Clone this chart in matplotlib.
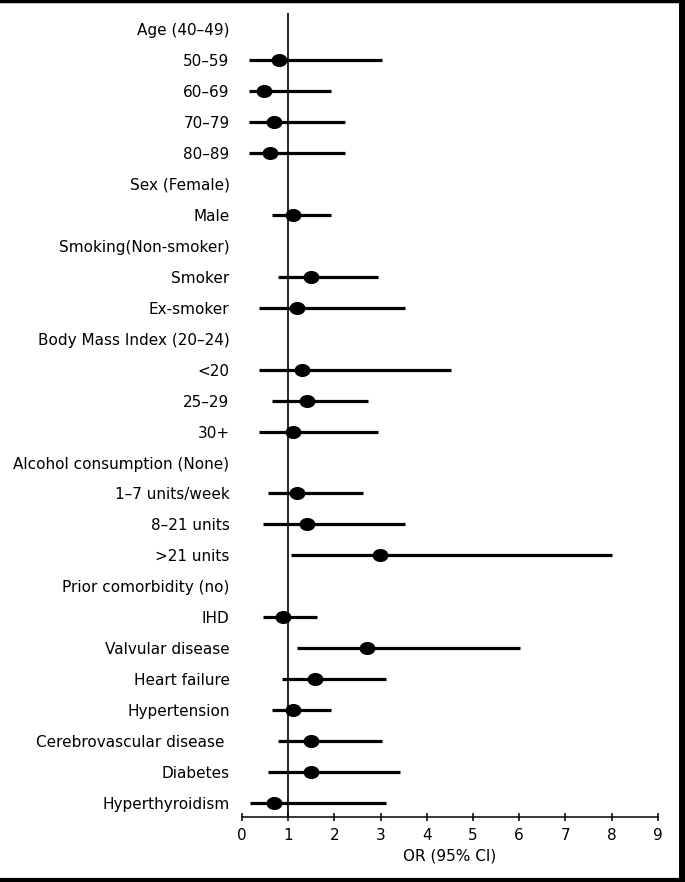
import numpy as np
import matplotlib.pyplot as plt
from matplotlib.lines import Line2D
from matplotlib.path import Path

# row labels, top to bottom (reference categories have no estimate)
labels = ['Age (40–49)', '50–59', '60–69', '70–79', '80–89',
          'Sex (Female)', 'Male',
          'Smoking(Non-smoker)', 'Smoker', 'Ex-smoker',
          'Body Mass Index (20–24)', '<20', '25–29', '30+',
          'Alcohol consumption (None)', '1–7 units/week', '8–21 units', '>21 units',
          'Prior comorbidity (no)', 'IHD', 'Valvular disease', 'Heart failure',
          'Hypertension', 'Cerebrovascular disease ', 'Diabetes', 'Hyperthyroidism']

odds = [np.nan, 0.80, 0.48, 0.70, 0.60,
        np.nan, 1.10,
        np.nan, 1.49, 1.20,
        np.nan, 1.29, 1.40, 1.10,
        np.nan, 1.20, 1.40, 2.99,
        np.nan, 0.89, 2.70, 1.59,
        1.10, 1.49, 1.49, 0.70]

ci_low = [np.nan, 0.16, 0.16, 0.16, 0.16,
          np.nan, 0.66,
          np.nan, 0.77, 0.37,
          np.nan, 0.37, 0.66, 0.37,
          np.nan, 0.57, 0.46, 1.06,
          np.nan, 0.45, 1.18, 0.86,
          0.66, 0.77, 0.57, 0.17]

ci_high = [np.nan, 3.04, 1.93, 2.23, 2.23,
           np.nan, 1.93,
           np.nan, 2.94, 3.52,
           np.nan, 4.52, 2.73, 2.94,
           np.nan, 2.63, 3.52, 8.02,
           np.nan, 1.62, 6.02, 3.12,
           1.93, 3.04, 3.43, 3.11]

x_ticks = list(range(0, 10))

plt.rcParams['font.family'] = 'DejaVu Sans'

fig = plt.figure(figsize=(6.85, 8.82), dpi=100)
ax = fig.add_axes([0.3533, 0.0737, 0.6069, 0.9119])

rows = np.arange(len(labels))
odds = np.array(odds)
ci_low = np.array(ci_low)
ci_high = np.array(ci_high)

# slightly flattened dot, like the original
circ = Path.unit_circle()
dot = Path(circ.vertices * [1.0, 0.8], circ.codes)

ax.hlines(rows, ci_low, ci_high, color='black', lw=2.3, clip_on=False)
ax.plot(odds, rows, linestyle='none', marker=dot, color='black',
        markersize=10.5, clip_on=False, zorder=3)
ax.axvline(1, color='black', lw=1.2, zorder=1)

ax.set_xlim(0, 9)
ax.set_ylim(len(labels) - 1 + 0.45, -0.53)

ax.set_yticks(rows)
ax.set_yticklabels(labels, fontsize=11)
ax.tick_params(axis='y', length=0, pad=9)

ax.set_xticks(x_ticks)
ax.set_xticklabels([str(t) for t in x_ticks], fontsize=11)
ax.tick_params(axis='x', direction='inout', length=6, width=1.1, pad=5)
ax.set_xlabel('OR (95% CI)', fontsize=11, labelpad=4)

for s in ['top', 'right', 'left']:
    ax.spines[s].set_visible(False)
ax.spines['bottom'].set_linewidth(1.1)

# black frame (top, right, bottom)
fig.add_artist(Line2D([0, 1], [0.999, 0.999], transform=fig.transFigure, color='black', lw=2.5))
fig.add_artist(Line2D([0.995, 0.995], [0, 1], transform=fig.transFigure, color='black', lw=5))
fig.add_artist(Line2D([0, 1], [0.002, 0.002], transform=fig.transFigure, color='black', lw=3))

fig.savefig('out.png', dpi=100)
